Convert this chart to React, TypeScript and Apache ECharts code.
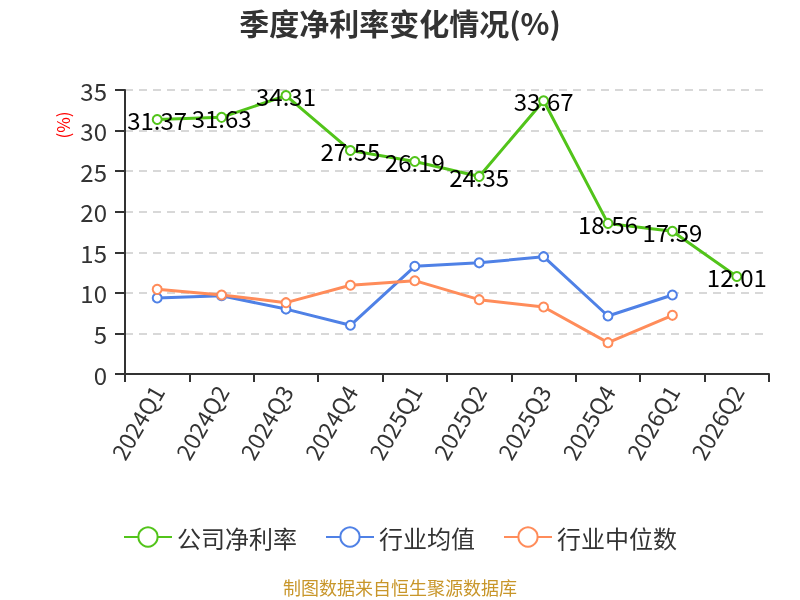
import React, { useEffect, useRef } from "react";
import * as echarts from "echarts";

const categories = ["2024Q1", "2024Q2", "2024Q3", "2024Q4", "2025Q1", "2025Q2", "2025Q3", "2025Q4", "2026Q1", "2026Q2"];
const companyNet = [31.37, 31.63, 34.31, 27.55, 26.19, 24.35, 33.67, 18.56, 17.59, 12.01];
const industryAvg = [9.37, 9.65, 8.0, 6.0, 13.27, 13.7, 14.46, 7.15, 9.74, null];
const industryMedian = [10.43, 9.74, 8.79, 10.93, 11.5, 9.16, 8.26, 3.86, 7.23, null];
const seriesNames = ["公司净利率", "行业均值", "行业中位数"];
const yTicks = { min: 0, max: 35, interval: 5 };

const FONT = "'Noto Sans CJK SC', 'Noto Sans', sans-serif";

export default function App() {
  const ref = useRef<HTMLDivElement>(null);
  useEffect(() => {
    if (!ref.current) return;
    const chart = echarts.init(ref.current, null, { renderer: "svg" });
    const mk = (name: string, data: any[], color: string, withLabel: boolean) => ({
      name,
      type: "line",
      data,
      symbol: "emptyCircle",
      symbolSize: 9,
      showSymbol: true,
      itemStyle: { color, borderWidth: 2 },
      lineStyle: { color, width: 3 },
      emphasis: { disabled: true },
      label: withLabel
        ? { show: true, position: "inside", color: "#000", fontSize: 24, fontFamily: FONT }
        : { show: false },
      z: withLabel ? 3 : 2,
    });
    chart.setOption({
      animation: false,
      textStyle: { fontFamily: FONT },
      title: {
        text: "季度净利率变化情况(%)",
        left: "center",
        top: 2,
        textStyle: { fontSize: 30, fontWeight: "bold", color: "#333", fontFamily: FONT },
      },
      legend: {
        top: 520,
        left: "center",
        itemWidth: 48,
        itemHeight: 24,
        itemGap: 28,
        textStyle: { fontSize: 24, color: "#333", fontFamily: FONT },
        data: seriesNames,
      },
      graphic: [
        {
          type: "text",
          left: "center",
          top: 578,
          style: { text: "制图数据来自恒生聚源数据库", fill: "#c8962a", fontSize: 18, fontFamily: FONT },
        },
        {
          type: "text",
          x: 62,
          y: 125,
          rotation: Math.PI / 2,
          style: { text: "(%)", fill: "#f00", fontSize: 17, fontFamily: FONT, align: "center", verticalAlign: "middle" },
        },
      ],
      grid: { left: 125, right: 31, top: 90, bottom: 226, containLabel: false },
      xAxis: {
        type: "category",
        data: categories,
        boundaryGap: true,
        axisLine: { show: true, lineStyle: { color: "#333", width: 2 } },
        axisTick: { show: true, alignWithLabel: false, length: 8, lineStyle: { color: "#333", width: 2 } },
        axisLabel: { rotate: 60, fontSize: 23, color: "#333", margin: 13, interval: 0, fontFamily: FONT },
      },
      yAxis: {
        type: "value",
        min: yTicks.min,
        max: yTicks.max,
        interval: yTicks.interval,
        axisLine: { show: true, lineStyle: { color: "#333", width: 2 } },
        axisTick: { show: true, length: 10, lineStyle: { color: "#333", width: 2 } },
        axisLabel: { fontSize: 24, color: "#333", margin: 18, fontFamily: FONT },
        splitLine: { show: true, lineStyle: { color: "#ccc", type: [8, 6], width: 1.5 } },
      },
      series: [
        mk(seriesNames[0], companyNet, "#52c41a", true),
        mk(seriesNames[1], industryAvg, "#4f81e6", false),
        mk(seriesNames[2], industryMedian, "#ff8c5a", false),
      ],
    });
    return () => chart.dispose();
  }, []);
  return <div ref={ref} style={{ position: "fixed", left: 0, top: 0, width: 800, height: 600 }} />;
}
